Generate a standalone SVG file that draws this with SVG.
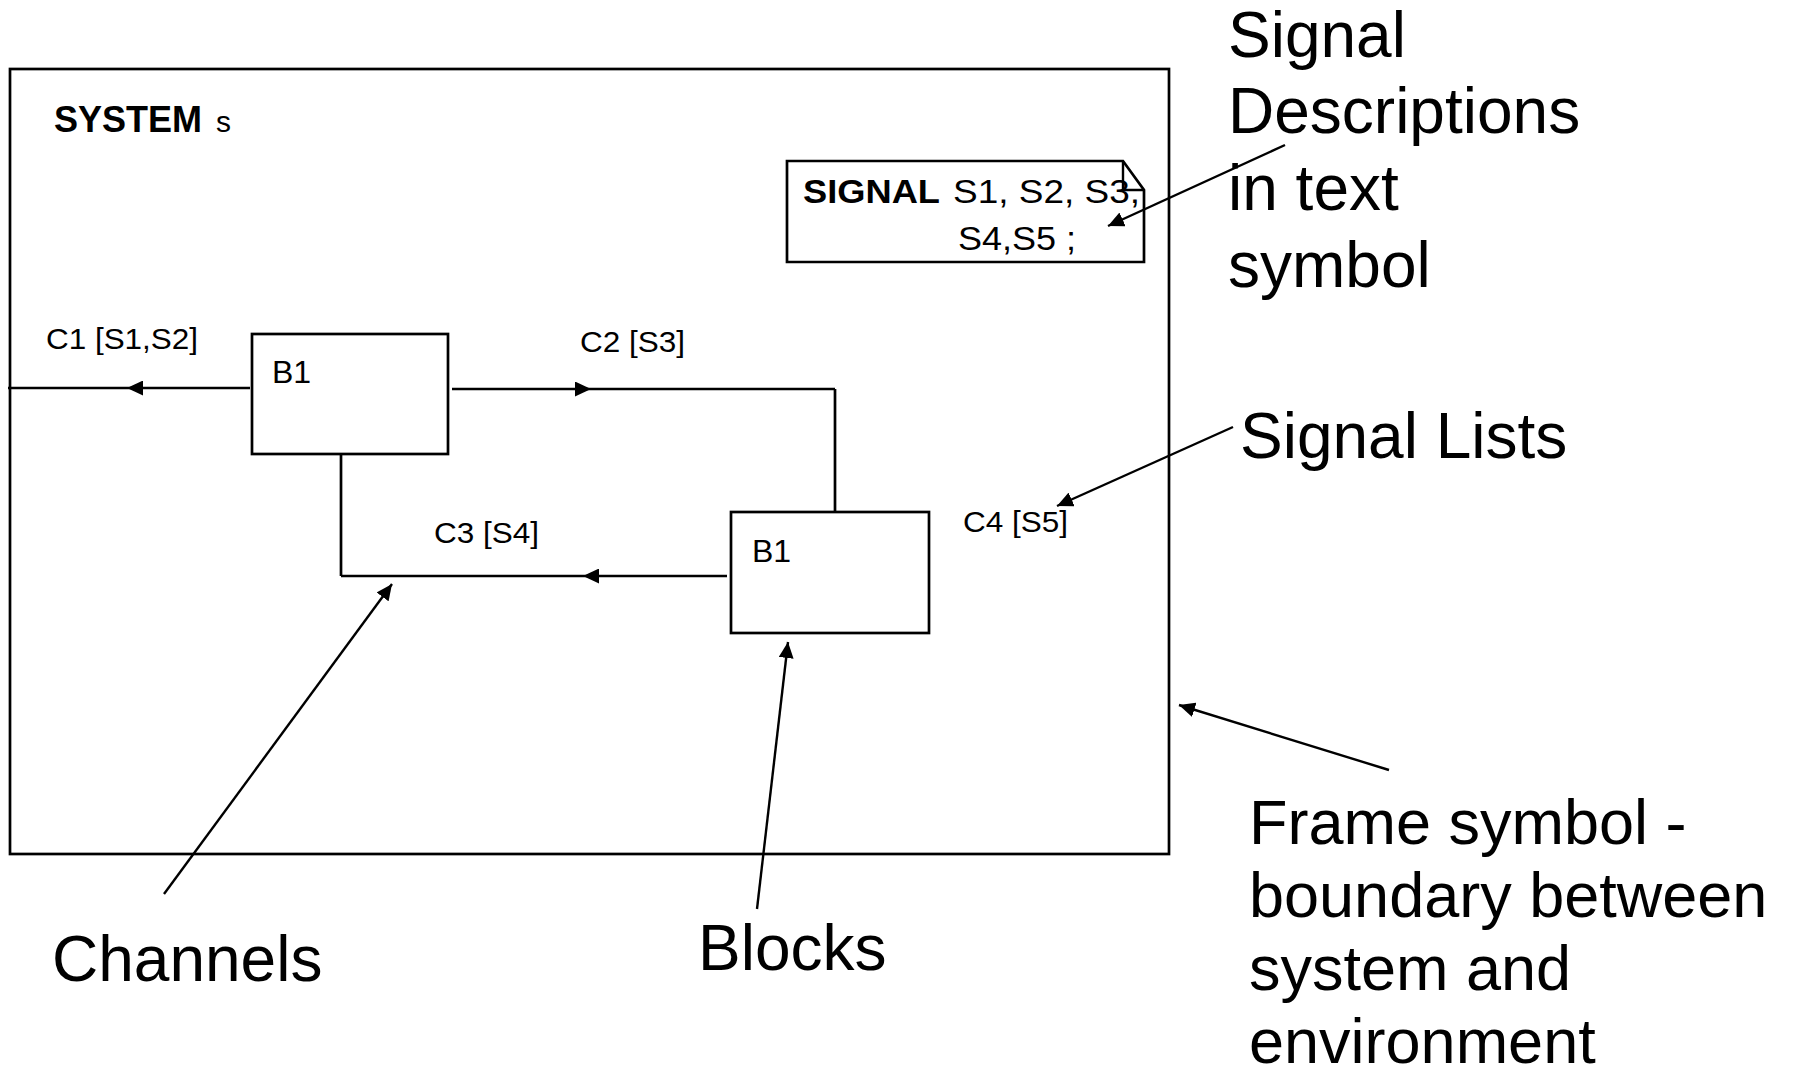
<svg xmlns="http://www.w3.org/2000/svg" width="1793" height="1078" viewBox="0 0 1793 1078">
  <style>
    .t { font-family: "Liberation Sans", Arial, sans-serif; fill: #000; }
    .big { font-size: 64px; }
    .lbl { font-size: 29px; }
    .blk { font-size: 32px; }
    .b { font-weight: bold; }
    .box { fill: #fff; stroke: #000; stroke-width: 2.7; }
    .ch { fill: none; stroke: #000; stroke-width: 2.7; }
    .ptr { fill: none; stroke: #000; stroke-width: 2.4; }
  </style>
  <defs>
    <marker id="ah" markerUnits="userSpaceOnUse" markerWidth="17" markerHeight="15" refX="16" refY="7.5" orient="auto">
      <path d="M0,0 L16,7.5 L0,15 z" fill="#000"/>
    </marker>
  </defs>
  <rect width="1793" height="1078" fill="#fff"/>

  <g id="frame">
    <rect class="box" x="10" y="69" width="1159" height="785" style="fill:none"/>
    <text class="t b" x="54" y="132" font-size="36">SYSTEM</text>
    <text class="t" x="216" y="132" font-size="30">s</text>
  </g>

  <g id="text-symbol">
    <path class="box" d="M787,161 H1123 L1144,190 V262 H787 Z"/>
    <path class="ch" d="M1123,161 V190 H1144" style="stroke-width:2.4"/>
    <text class="t b" x="803" y="203" font-size="34" textLength="137" lengthAdjust="spacingAndGlyphs">SIGNAL</text>
    <text class="t" x="953" y="203" font-size="34" textLength="187" lengthAdjust="spacingAndGlyphs">S1, S2, S3,</text>
    <text class="t" x="958" y="250" font-size="34" textLength="118" lengthAdjust="spacingAndGlyphs">S4,S5 ;</text>
  </g>

  <g id="block-upper">
    <rect class="box" x="252" y="334" width="196" height="120"/>
    <text class="t blk" x="272" y="383">B1</text>
  </g>

  <g id="block-lower">
    <rect class="box" x="731" y="512" width="198" height="121"/>
    <text class="t blk" x="752" y="562">B1</text>
  </g>

  <g id="connectors">
    <path class="ch" d="M250,388 L127,388 L8,388" marker-mid="url(#ah)"/>
    <path class="ch" d="M452,389 L591,389 L835,389" marker-mid="url(#ah)"/>
    <path class="ch" d="M835,389 V512"/>
    <path class="ch" d="M727,576 L583,576 L341,576" marker-mid="url(#ah)"/>
    <path class="ch" d="M341,576 V454"/>
    <path class="ptr" d="M1285,145 L1108,226" marker-end="url(#ah)"/>
    <path class="ptr" d="M1233,427 L1057,506" marker-end="url(#ah)"/>
    <path class="ptr" d="M1389,770 L1179,705" marker-end="url(#ah)"/>
    <path class="ptr" d="M757,909 L788,642" marker-end="url(#ah)"/>
    <path class="ptr" d="M164,894 L392,584" marker-end="url(#ah)"/>
  </g>

  <g id="channel-labels">
    <text class="t lbl" x="46" y="349" textLength="152" lengthAdjust="spacingAndGlyphs">C1 [S1,S2]</text>
    <text class="t lbl" x="580" y="352" textLength="105" lengthAdjust="spacingAndGlyphs">C2 [S3]</text>
    <text class="t lbl" x="434" y="543" textLength="105" lengthAdjust="spacingAndGlyphs">C3 [S4]</text>
    <text class="t lbl" x="963" y="532" textLength="105" lengthAdjust="spacingAndGlyphs">C4 [S5]</text>
  </g>

  <g id="annotation-signal-descriptions">
    <text class="t big" x="1228" y="57">Signal</text>
    <text class="t big" x="1228" y="133">Descriptions</text>
    <text class="t big" x="1228" y="210">in text</text>
    <text class="t big" x="1228" y="287">symbol</text>
  </g>
  <g id="annotation-signal-lists">
    <text class="t big" x="1240" y="458">Signal Lists</text>
  </g>
  <g id="annotation-frame">
    <text class="t" font-size="63" x="1249" y="844">Frame symbol -</text>
    <text class="t" font-size="63" x="1249" y="917">boundary between</text>
    <text class="t" font-size="63" x="1249" y="990">system and</text>
    <text class="t" font-size="63" x="1249" y="1063">environment</text>
  </g>
  <g id="annotation-channels">
    <text class="t big" x="52" y="981">Channels</text>
  </g>
  <g id="annotation-blocks">
    <text class="t big" x="698" y="970">Blocks</text>
  </g>
</svg>
